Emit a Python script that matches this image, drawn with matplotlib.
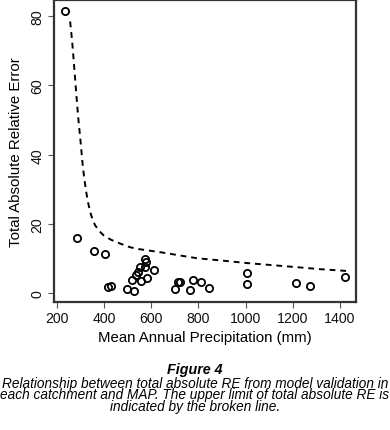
import matplotlib
matplotlib.use("Agg")
import matplotlib.pyplot as plt

# Catchment points: mean annual precipitation (mm) vs total absolute RE
map_mm = [235, 284, 356, 405, 418, 430, 498, 517, 526, 534, 543, 551, 558,
          573, 573, 579, 582, 610, 701, 712, 724, 763, 777, 810, 847,
          1005, 1005, 1214, 1274, 1421]
abs_re = [81.5, 15.9, 12.1, 11.4, 1.7, 2.2, 1.2, 3.9, 0.75, 5.3, 6.1, 7.5, 3.5,
          9.9, 7.5, 9.1, 4.5, 6.8, 1.2, 3.2, 3.1, 0.9, 3.7, 3.2, 1.6,
          5.7, 2.6, 2.8, 2.2, 4.8]

# Upper limit (broken line)
lim_x = [256, 262, 267, 272, 277, 282, 287, 293, 299, 305, 310, 317, 324, 332,
         341, 351, 362, 380, 398, 430, 469, 508, 539, 600, 650, 720, 792, 900,
         1004, 1110, 1217, 1320, 1429]
lim_y = [78.5, 74.5, 70.8, 66.4, 62.1, 57.7, 53.4, 48.8, 44.7, 40.2, 36.5, 32.6,
         29.3, 26.2, 23.5, 21.3, 19.6, 17.9, 16.7, 15.4, 14.3, 13.3, 12.8, 12.2,
         11.7, 10.9, 10.1, 9.4, 8.7, 8.1, 7.5, 6.9, 6.4]

caption = ["Relationship between total absolute RE from model validation in",
           "each catchment and MAP. The upper limit of total absolute RE is",
           "indicated by the broken line."]

plt.rcParams["font.family"] = ["Liberation Sans", "DejaVu Sans"]

fig = plt.figure(figsize=(3.9, 4.31), dpi=100)
ax = fig.add_axes([54 / 390, 1 - 302.7 / 431, 302 / 390, 301.7 / 431])

ax.plot(lim_x, lim_y, color="black", lw=1.4, ls=(0, (3, 2.5)))
ax.plot(map_mm, abs_re, "o", mfc="none", mec="black", ms=5.2, mew=1.3)

ax.set_xlim(187.6, 1468.4)
ax.set_ylim(-2.48, 84.7)
ax.set_xticks([200, 400, 600, 800, 1000, 1200, 1400])
ax.set_yticks([0, 20, 40, 60, 80])
for lab in ax.get_yticklabels():
    lab.set_rotation(90)
    lab.set_va("center")

for s in ax.spines.values():
    s.set_linewidth(1.6)
    s.set_color("#333333")
ax.tick_params(direction="out", length=4, width=0.8, color="#555555",
               labelsize=10.2, pad=3, labelcolor="#111111")

ax.set_xlabel("Mean Annual Precipitation (mm)", fontsize=10.8, labelpad=3)
ax.set_ylabel("Total Absolute Relative Error", fontsize=10.8, labelpad=5)

fig.text(0.5, 1 - 370 / 431, "Figure 4", ha="center", va="center",
         fontsize=10.3, fontweight="bold", style="italic")
fig.text(0.5, 1 - 395.5 / 431, "\n".join(caption), ha="center", va="center",
         fontsize=9.8, style="italic", linespacing=0.8)

fig.savefig("out.png", dpi=100)
